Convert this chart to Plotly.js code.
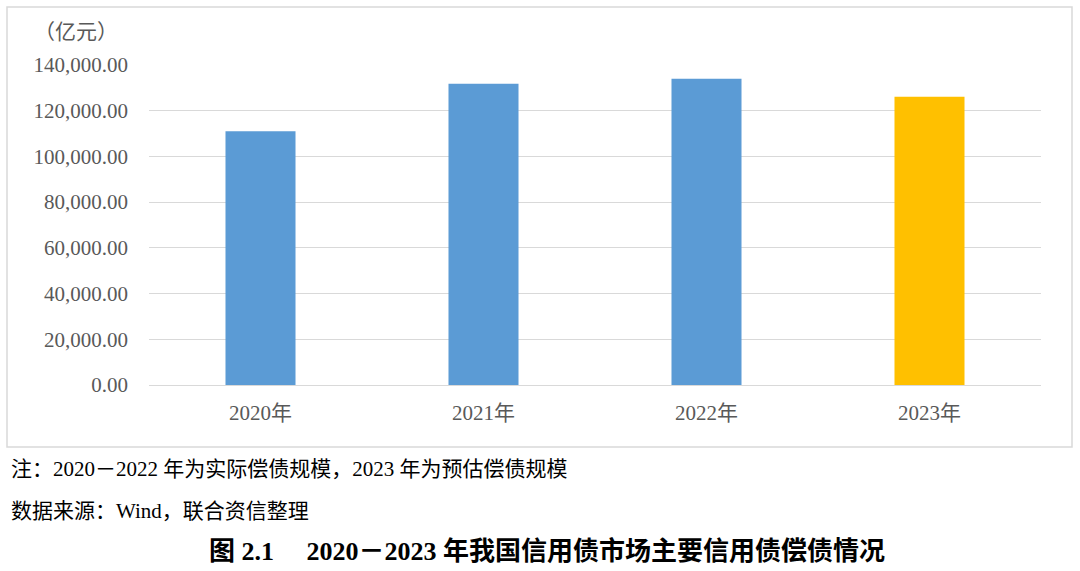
<!DOCTYPE html>
<html><head><meta charset="utf-8">
<script src="https://cdn.plot.ly/plotly-3.0.1.min.js"></script>
<style>html,body{margin:0;padding:0;background:#fff}</style>
</head><body><div id="chart" style="width:1080px;height:571px"></div>
<script>
const categories = ['2020年','2021年','2022年','2023年'];
const values = [111000, 131800, 134000, 126100];
const barColors = ['#5B9BD5','#5B9BD5','#5B9BD5','#FFC000'];
const unitLabel = '（亿元）';
const noteText = '注：2020－2022 年为实际偿债规模，2023 年为预估偿债规模';
const sourceText = '数据来源：Wind，联合资信整理';
const figTitle = '<b>图 2.1　 2020－2023 年我国信用债市场主要信用债偿债情况</b>';

const L=149, R=1041, T=65, B=385;
const px = x => (x - L)/(R - L);
const py = y => (B - y)/(B - T);
const serif = 'Liberation Serif, "Times New Roman", "Noto Sans CJK SC", serif';
const cjk = 'Liberation Serif, "Noto Sans CJK SC", serif';

const data = [{
  type:'bar', x:categories, y:values,
  marker:{color:barColors},
  hoverinfo:'x+y'
}];
const layout = {
  width:1080, height:571,
  margin:{l:L, r:1080-R, t:T, b:571-B},
  paper_bgcolor:'#fff', plot_bgcolor:'#fff',
  bargap:0.686,
  showlegend:false,
  xaxis:{showgrid:false, showline:true, linecolor:'#d9d9d9', linewidth:1,
    ticks:'', tickfont:{family:serif, size:21, color:'#595959'}, ticklabelstandoff:9},
  yaxis:{range:[0,140000], dtick:20000, tickformat:',.2f', showgrid:true, gridcolor:'#d9d9d9',
    zeroline:false, showline:false, ticks:'', tickfont:{family:serif, size:21, color:'#595959'},
    ticklabelstandoff:20},
  shapes:[{type:'rect', xref:'paper', yref:'paper', x0:px(7), x1:px(1072), y0:py(447), y1:py(7),
    line:{color:'#d9d9d9', width:1.5}, fillcolor:'rgba(0,0,0,0)', layer:'below'}],
  annotations:[
    {text:unitLabel, xref:'paper', yref:'paper', x:px(32), y:py(32), xanchor:'left', yanchor:'middle',
     showarrow:false, font:{family:cjk, size:21, color:'#595959'}},
    {text:noteText, xref:'paper', yref:'paper', x:px(9), y:py(469), xanchor:'left', yanchor:'middle',
     showarrow:false, font:{family:cjk, size:21, color:'#000'}},
    {text:sourceText, xref:'paper', yref:'paper', x:px(9), y:py(511), xanchor:'left', yanchor:'middle',
     showarrow:false, font:{family:cjk, size:21, color:'#000'}},
    {text:figTitle, xref:'paper', yref:'paper', x:px(547), y:py(551), xanchor:'center', yanchor:'middle',
     showarrow:false, font:{family:cjk, size:26, color:'#000'}}
  ]
};
Plotly.newPlot('chart', data, layout, {displayModeBar:false, staticPlot:true});
</script></body></html>
